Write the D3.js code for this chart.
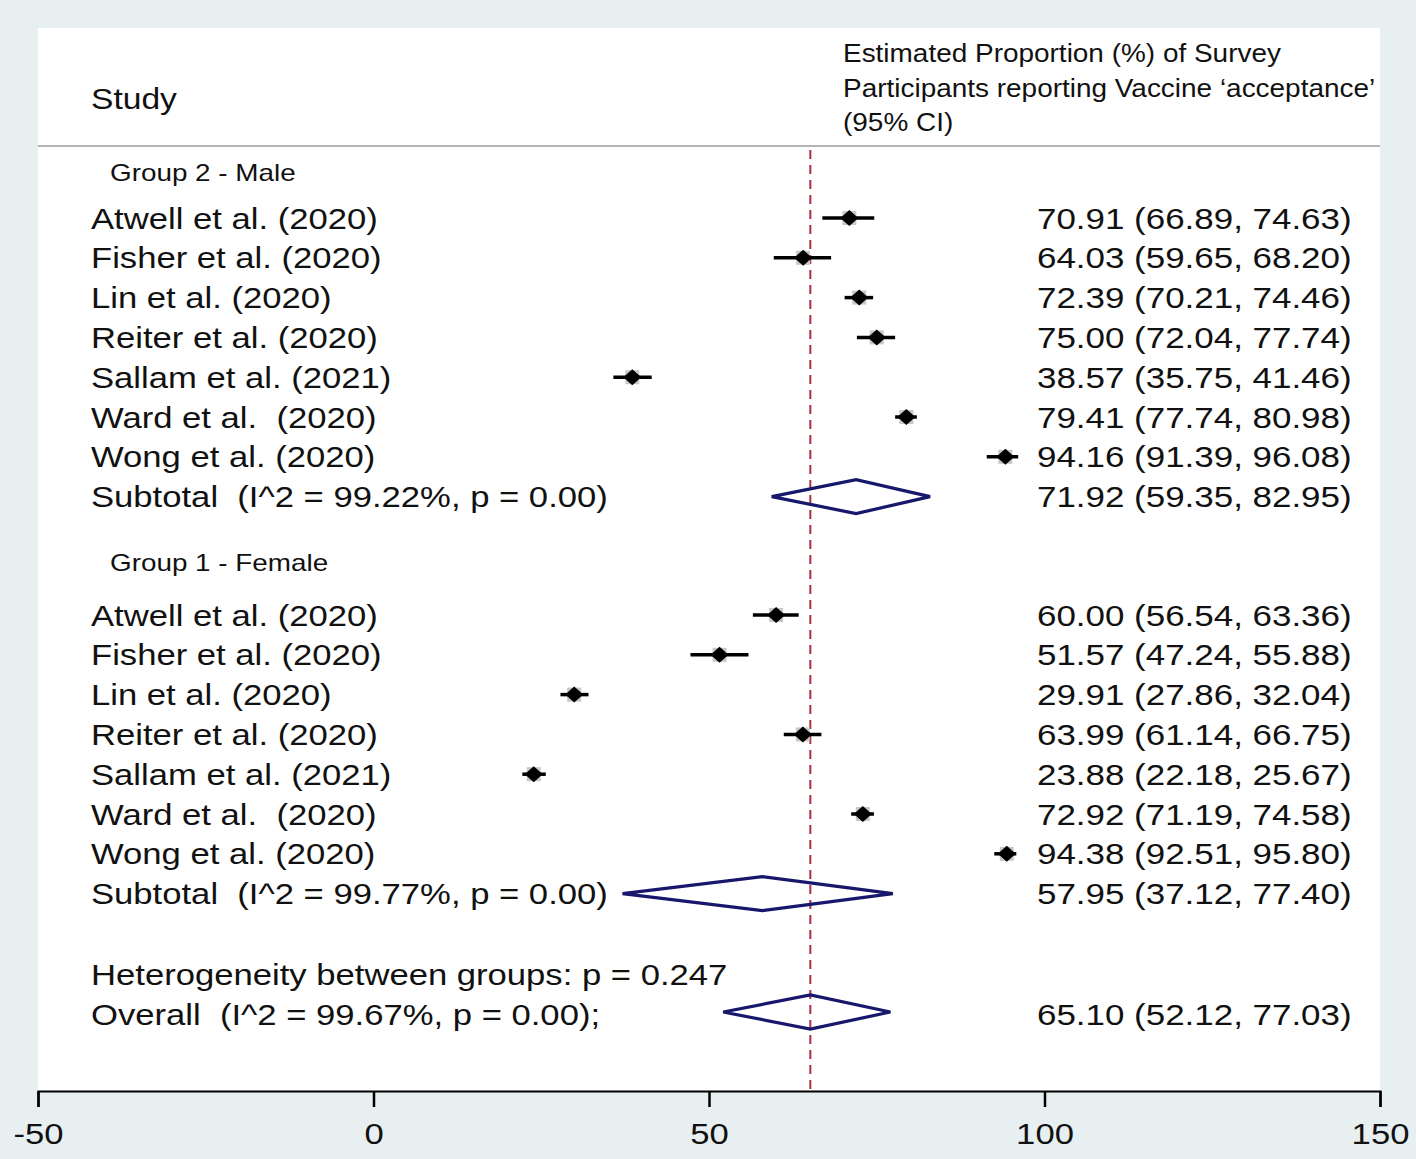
<!DOCTYPE html>
<meta charset="utf-8">
<style>
body { margin: 0; background: #e8eff1; }
text { font-family: "Liberation Sans", Arial, sans-serif; fill: #111; white-space: pre; }
</style>
<body>
<script src="https://cdn.jsdelivr.net/npm/d3@7"></script>
<script>
var studies = ["Atwell et al. (2020)", "Fisher et al. (2020)", "Lin et al. (2020)", "Reiter et al. (2020)",
               "Sallam et al. (2021)", "Ward et al.  (2020)", "Wong et al. (2020)"];

var maleEst = [70.91, 64.03, 72.39, 75.00, 38.57, 79.41, 94.16];
var maleLo  = [66.89, 59.65, 70.21, 72.04, 35.75, 77.74, 91.39];
var maleHi  = [74.63, 68.20, 74.46, 77.74, 41.46, 80.98, 96.08];

var femaleEst = [60.00, 51.57, 29.91, 63.99, 23.88, 72.92, 94.38];
var femaleLo  = [56.54, 47.24, 27.86, 61.14, 22.18, 71.19, 92.51];
var femaleHi  = [63.36, 55.88, 32.04, 66.75, 25.67, 74.58, 95.80];

// subtotal / overall: [estimate, lower, upper]
var maleSub = [71.92, 59.35, 82.95];
var femaleSub = [57.95, 37.12, 77.40];
var overall = [65.10, 52.12, 77.03];

var maleSubLabel = "Subtotal  (I^2 = 99.22%, p = 0.00)";
var femaleSubLabel = "Subtotal  (I^2 = 99.77%, p = 0.00)";
var overallLabel = "Overall  (I^2 = 99.67%, p = 0.00);";
var hetLabel = "Heterogeneity between groups: p = 0.247";

var xTicks = [-50, 0, 50, 100, 150];

var W = 1416, H = 1159;
var panel = {left: 38, right: 1380, top: 28, bottom: 1091};
var step = 39.8;
var fs = 30, sx = 1.155;

var fmt = d3.format(".2f");
function ciText(e, l, h) { return fmt(e) + " (" + fmt(l) + ", " + fmt(h) + ")"; }

var x = d3.scaleLinear().domain([-50, 150]).range([panel.left, panel.right]);

var svg = d3.select("body").append("svg")
    .attr("width", W)
    .attr("height", H);

svg.append("rect")
    .attr("x", panel.left).attr("y", panel.top)
    .attr("width", panel.right - panel.left)
    .attr("height", panel.bottom - panel.top)
    .attr("fill", "#fff");

function label(g, txt, px, py, size, k) {
  g.append("text")
      .attr("transform", "translate(" + px + "," + py + ") scale(" + (k || sx) + ",1)")
      .attr("dy", ".35em")
      .style("font-size", size + "px")
      .text(txt);
}

// header
label(svg, "Study", 91, 98, fs, 1.12);
label(svg, "Estimated Proportion (%) of Survey", 843, 53, 26, 1.075);
label(svg, "Participants reporting Vaccine \u2018acceptance\u2019", 843, 88, 26, 1.075);
label(svg, "(95% CI)", 843, 122, 26, 1.075);

svg.append("line")
    .attr("x1", panel.left).attr("x2", panel.right)
    .attr("y1", 146).attr("y2", 146)
    .attr("stroke", "#b4b4b4")
    .attr("stroke-width", 2);

// overall reference line
svg.append("line")
    .attr("x1", x(overall[0])).attr("x2", x(overall[0]))
    .attr("y1", 150).attr("y2", panel.bottom)
    .attr("stroke", "#a8323f")
    .attr("stroke-width", 2)
    .attr("stroke-dasharray", "9,6");

function diamond(vals, cy) {
  var h = 17;
  svg.append("path")
      .attr("d", "M" + x(vals[1]) + "," + cy + "L" + x(vals[0]) + "," + (cy - h) +
                 "L" + x(vals[2]) + "," + cy + "L" + x(vals[0]) + "," + (cy + h) + "Z")
      .attr("fill", "none")
      .attr("stroke", "#17176c")
      .attr("stroke-width", 3.2);
}

function group(title, titleY, top, est, lo, hi, sub, subLabel) {
  label(svg, title, 110, titleY, 24, 1.16);
  var g = svg.append("g");
  var rows = g.selectAll(".row")
      .data(studies.map(function(s, i) { return {name: s, e: est[i], l: lo[i], h: hi[i]}; }))
    .enter().append("g")
      .attr("class", "row")
      .attr("transform", function(d, i) { return "translate(0," + (top + i * step) + ")"; });

  rows.append("rect")
      .attr("x", function(d) { return x(d.e) - 7; })
      .attr("y", -7).attr("width", 14).attr("height", 14)
      .attr("fill", "#c8c8c8");
  rows.append("line")
      .attr("x1", function(d) { return x(d.l); })
      .attr("x2", function(d) { return x(d.h); })
      .attr("stroke", "#000")
      .attr("stroke-width", 3.5);
  rows.append("path")
      .attr("d", function(d) { var c = x(d.e); return "M" + (c - 9) + ",0L" + c + ",-8L" + (c + 9) + ",0L" + c + ",8Z"; })
      .attr("fill", "#000");
  rows.each(function(d) {
    var r = d3.select(this);
    label(r, d.name, 91, 0, fs);
    label(r, ciText(d.e, d.l, d.h), 1037, 0, fs, 1.165);
  });

  var sy = top + 7 * step;
  diamond(sub, sy);
  label(svg, subLabel, 91, sy, fs);
  label(svg, ciText(sub[0], sub[1], sub[2]), 1037, sy, fs, 1.165);
}

group("Group 2 - Male", 173, 218, maleEst, maleLo, maleHi, maleSub, maleSubLabel);
group("Group 1 - Female", 563, 615, femaleEst, femaleLo, femaleHi, femaleSub, femaleSubLabel);

label(svg, hetLabel, 91, 974, fs);
label(svg, overallLabel, 91, 1014, fs);
diamond(overall, 1012);
label(svg, ciText(overall[0], overall[1], overall[2]), 1037, 1014, fs, 1.165);

// x axis
var axis = svg.append("g")
    .attr("transform", "translate(0," + panel.bottom + ")")
    .call(d3.axisBottom(x).tickValues(xTicks).tickSize(16).tickPadding(16).tickSizeOuter(16)
      .tickFormat(function(d) { return String(d); }));
axis.select(".domain").attr("stroke", "#000").attr("stroke-width", 2);
axis.selectAll(".tick line").attr("stroke", "#000").attr("stroke-width", 2.5);
axis.selectAll(".tick text")
    .style("font-family", "'Liberation Sans', Arial, sans-serif")
    .style("font-size", "30px")
    .attr("fill", "#111")
    .attr("transform", "scale(" + sx + ",1)");
</script>
</body>
</html>
